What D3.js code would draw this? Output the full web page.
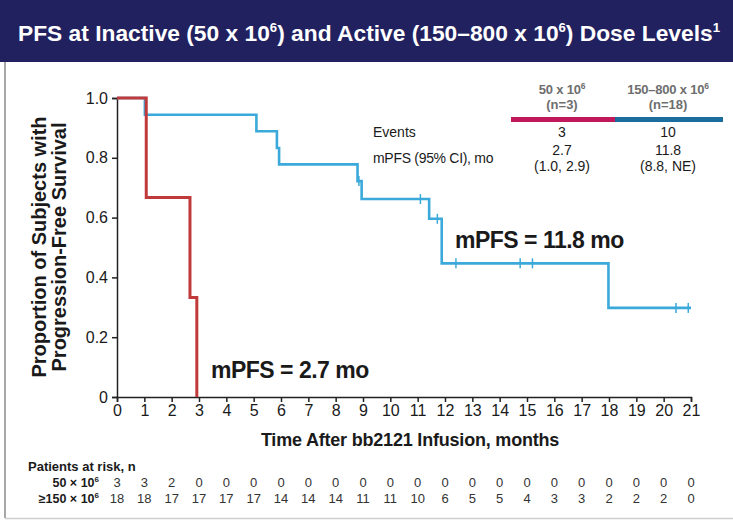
<!DOCTYPE html>
<html>
<head>
<meta charset="utf-8">
<script src="https://cdn.jsdelivr.net/npm/d3@7"></script>
<style>
  html, body { margin: 0; padding: 0; background: #fff; }
  svg { display: block; font-family: "Liberation Sans", Arial, sans-serif; }
</style>
</head>
<body>
<svg id="chart" width="733" height="520"></svg>
<script>
// Kaplan–Meier steps: [time (months), survival proportion]
const lowDoseSteps = [[0, 1.0], [1.07, 0.667], [2.67, 0.333], [2.92, 0.0]];
const highDoseSteps = [
  [0, 1.0], [1.02, 0.944], [5.1, 0.889], [5.85, 0.833], [5.93, 0.778],
  [8.8, 0.722], [8.95, 0.662], [11.42, 0.596], [11.88, 0.447], [17.98, 0.298]
];
const highDoseEnd = 21.0;
// censored observations: [time, survival]
const highDoseCensors = [
  [8.85, 0.722], [11.1, 0.662], [11.72, 0.596], [12.4, 0.447],
  [14.75, 0.447], [15.2, 0.447], [20.45, 0.298], [20.9, 0.298]
];

const monthTicks = d3.range(0, 22);
const yTicks = [0, 0.2, 0.4, 0.6, 0.8, 1.0];
const atRiskLow = [3, 3, 2, 0, 0, 0, 0, 0, 0, 0, 0, 0, 0, 0, 0, 0, 0, 0, 0, 0, 0, 0];
const atRiskHigh = [18, 18, 17, 17, 17, 17, 14, 14, 14, 11, 11, 10, 6, 5, 5, 4, 3, 3, 2, 2, 2, 0];

const groupLabels = ["50 x 10", "150\u2013800 x 10"];
const groupN = ["(n=3)", "(n=18)"];
const groupEvents = ["3", "10"];
const groupMedian = ["2.7", "11.8"];
const groupCI = ["(1.0, 2.9)", "(8.8, NE)"];

const svg = d3.select("#chart");
const W = 733, H = 520;

const RED = "#c03a3c";
const BLUE = "#3ba9d9";
const TEXT = "#1a1a1a";

// frame
svg.append("line").attr("x1", 5).attr("x2", 5).attr("y1", 60).attr("y2", 518)
  .attr("stroke", "#8a8a8a").attr("stroke-width", 1.5);
svg.append("line").attr("x1", 5).attr("x2", W).attr("y1", 518.5).attr("y2", 518.5)
  .attr("stroke", "#cfcfcf").attr("stroke-width", 1.5);

// title banner
svg.append("rect").attr("x", 0).attr("y", 0).attr("width", W).attr("height", 62)
  .attr("fill", "#222160");
const title = svg.append("text").attr("x", 18).attr("y", 41)
  .attr("fill", "#fff").attr("font-size", 22.5).attr("font-weight", "bold")
  .attr("textLength", 702).attr("lengthAdjust", "spacingAndGlyphs");
title.append("tspan").text("PFS at Inactive (50 x 10");
title.append("tspan").attr("font-size", 13).attr("dy", -9).text("6");
title.append("tspan").attr("dy", 9).text(") and Active (150\u2013800 x 10");
title.append("tspan").attr("font-size", 13).attr("dy", -9).text("6");
title.append("tspan").attr("dy", 9).text(") Dose Levels");
title.append("tspan").attr("font-size", 13).attr("dy", -9).text("1");

// scales
const x = d3.scaleLinear().domain([0, 21]).range([117, 691]);
const y = d3.scaleLinear().domain([0, 1]).range([397, 98]);

// axes
const yAxis = svg.append("g").attr("transform", `translate(${x(0)},0)`)
  .call(d3.axisLeft(y).tickValues(yTicks).tickSize(5).tickPadding(4)
    .tickFormat(d => d === 0 ? "0" : d3.format(".1f")(d)));
const xAxis = svg.append("g").attr("transform", `translate(0,${y(0)})`)
  .call(d3.axisBottom(x).tickValues(monthTicks).tickSize(5).tickPadding(3)
    .tickFormat(d3.format("d")));
[yAxis, xAxis].forEach(g => {
  g.select(".domain").attr("stroke", "#222").attr("stroke-width", 1.5);
  g.selectAll(".tick line").attr("stroke", "#222").attr("stroke-width", 1.5);
  g.selectAll(".tick text").attr("fill", TEXT).attr("font-size", 16)
    .attr("font-family", "Liberation Sans, Arial, sans-serif");
});

// axis titles
svg.append("text").attr("x", 410).attr("y", 446).attr("text-anchor", "middle")
  .attr("font-size", 18).attr("font-weight", "bold").attr("fill", TEXT)
  .attr("letter-spacing", -0.2)
  .text("Time After bb2121 Infusion, months");
const yl = svg.append("text").attr("transform", "translate(46,247) rotate(-90)")
  .attr("text-anchor", "middle").attr("font-size", 20).attr("font-weight", "bold")
  .attr("fill", TEXT);
yl.append("tspan").attr("x", 0).attr("y", 0).text("Proportion of Subjects with");
yl.append("tspan").attr("x", 0).attr("y", 20).text("Progression-Free Survival");

// step curves
const stepLine = d3.line().x(d => x(d[0])).y(d => y(d[1])).curve(d3.curveStepAfter);
const lowPts = lowDoseSteps.slice();
const highPts = highDoseSteps.concat([[highDoseEnd, highDoseSteps[highDoseSteps.length - 1][1]]]);

svg.append("path").datum(highPts).attr("d", stepLine)
  .attr("fill", "none").attr("stroke", BLUE).attr("stroke-width", 2.6);
svg.append("path").datum(lowPts).attr("d", stepLine)
  .attr("fill", "none").attr("stroke", RED).attr("stroke-width", 3);

svg.append("g").selectAll("line").data(highDoseCensors).join("line")
  .attr("x1", d => x(d[0])).attr("x2", d => x(d[0]))
  .attr("y1", d => y(d[1]) - 5).attr("y2", d => y(d[1]) + 5)
  .attr("stroke", BLUE).attr("stroke-width", 1.5);

// median annotations
svg.append("text").attr("x", 211).attr("y", 378).attr("font-size", 23)
  .attr("font-weight", "bold").attr("fill", TEXT).attr("letter-spacing", -0.5)
  .text("mPFS = 2.7 mo");
svg.append("text").attr("x", 455).attr("y", 248).attr("font-size", 23)
  .attr("font-weight", "bold").attr("fill", TEXT).attr("letter-spacing", -0.5)
  .text("mPFS = 11.8 mo");

// summary table
const colX = [562, 668];
const barColors = ["#c0185a", "#1b6d9e"];
groupLabels.forEach((lab, i) => {
  const t = svg.append("text").attr("x", colX[i]).attr("y", 94)
    .attr("text-anchor", "middle").attr("font-size", 13).attr("font-weight", "bold")
    .attr("fill", "#6e6e6e").attr("letter-spacing", -0.2);
  t.append("tspan").text(lab);
  t.append("tspan").attr("font-size", 8.5).attr("dy", -5).text("6");
  svg.append("text").attr("x", colX[i]).attr("y", 109).attr("text-anchor", "middle")
    .attr("font-size", 13).attr("font-weight", "bold").attr("fill", "#6e6e6e")
    .text(groupN[i]);
  svg.append("text").attr("x", colX[i]).attr("y", 137).attr("text-anchor", "middle")
    .attr("font-size", 14).attr("fill", TEXT).text(groupEvents[i]);
  svg.append("text").attr("x", colX[i]).attr("y", 155).attr("text-anchor", "middle")
    .attr("font-size", 14).attr("fill", TEXT).text(groupMedian[i]);
  svg.append("text").attr("x", colX[i]).attr("y", 171).attr("text-anchor", "middle")
    .attr("font-size", 14).attr("fill", TEXT).text(groupCI[i]);
});
svg.append("rect").attr("x", 511).attr("y", 117).attr("width", 104).attr("height", 5)
  .attr("fill", barColors[0]);
svg.append("rect").attr("x", 615).attr("y", 117).attr("width", 108).attr("height", 5)
  .attr("fill", barColors[1]);
svg.append("text").attr("x", 373).attr("y", 137).attr("font-size", 14)
  .attr("fill", TEXT).text("Events");
svg.append("text").attr("x", 373).attr("y", 163).attr("font-size", 14)
  .attr("fill", TEXT).attr("letter-spacing", -0.3).text("mPFS (95% CI), mo");

// patients at risk
svg.append("text").attr("x", 28).attr("y", 471).attr("font-size", 13)
  .attr("font-weight", "bold").attr("fill", TEXT).text("Patients at risk, n");
const r1 = svg.append("text").attr("x", 99).attr("y", 487).attr("text-anchor", "end")
  .attr("font-size", 12.5).attr("font-weight", "bold").attr("fill", TEXT);
r1.append("tspan").text("50 \u00d7 10");
r1.append("tspan").attr("font-size", 8).attr("dy", -5).text("6");
const r2 = svg.append("text").attr("x", 99).attr("y", 503).attr("text-anchor", "end")
  .attr("font-size", 12.5).attr("font-weight", "bold").attr("fill", TEXT);
r2.append("tspan").text("\u2265150 \u00d7 10");
r2.append("tspan").attr("font-size", 8).attr("dy", -5).text("6");

svg.append("g").selectAll("text").data(atRiskLow).join("text")
  .attr("x", (d, i) => x(monthTicks[i])).attr("y", 487).attr("text-anchor", "middle")
  .attr("font-size", 13).attr("fill", "#333").text(d => d);
svg.append("g").selectAll("text").data(atRiskHigh).join("text")
  .attr("x", (d, i) => x(monthTicks[i])).attr("y", 503).attr("text-anchor", "middle")
  .attr("font-size", 13).attr("fill", "#333").text(d => d);
</script>
</body>
</html>
